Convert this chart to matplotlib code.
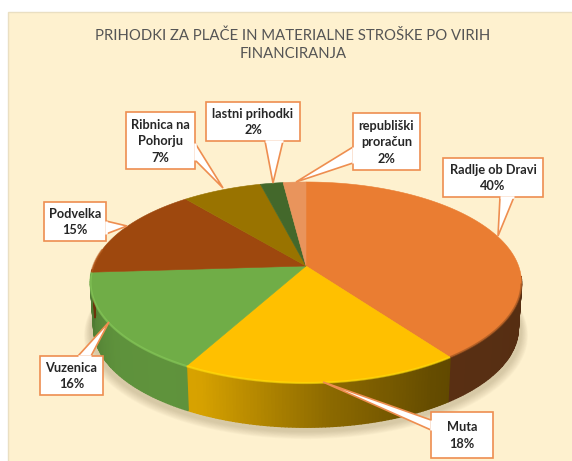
import numpy as np
import matplotlib
matplotlib.use("Agg")
import matplotlib.pyplot as plt
from matplotlib.patches import Polygon, Rectangle
from matplotlib.colors import to_rgb

title = "PRIHODKI ZA PLAČE IN MATERIALNE STROŠKE PO VIRIH\nFINANCIRANJA"
categories = ["Radlje ob Dravi", "Muta", "Vuzenica", "Podvelka",
              "Ribnica na\nPohorju", "lastni prihodki", "republiški\nproračun"]
values = [40, 18, 16, 15, 7, 2, 2]

colors = ["#EA7D32", "#FFC000", "#70AD47", "#9E480E", "#997300", "#43682B", "#E9945C"]

# callout layout: box (x0, y0, x1, y1), pointer base a, pointer base b, tip
callouts = [
    ((443, 158, 543, 197), (500, 197), (514, 197), (498, 236)),
    ((431, 412, 493, 458), (431, 420), (431, 430), (323, 382)),
    ((40, 356, 103, 395), (78, 356), (91, 356), (109, 322)),
    ((44, 202, 106, 241), (106, 221), (106, 234), (127, 226)),
    ((126, 112, 195, 169), (195, 143), (195, 160), (223, 188)),
    ((206, 102, 300, 141), (265, 141), (283, 141), (273, 183)),
    ((353, 113, 420, 170), (353, 147), (353, 163), (296, 182)),
]

CX, CY, R, H, K, DEPTH = 306, 266, 212.6, 97.8, 0.164, 46


def project(theta, drop=0.0, scale=1.0):
    u, v = np.sin(theta), np.cos(theta)
    d = 1 + K * v
    return CX + scale * R * u / d, CY - scale * H * v / d + drop


fig = plt.figure(figsize=(5.72, 4.61), dpi=100, facecolor="white")
ax = fig.add_axes([0, 0, 1, 1])
ax.set_xlim(0, 572)
ax.set_ylim(461, 0)
ax.axis("off")

ax.add_patch(Rectangle((8, 12), 570, 460, fc="#FEF1CF", ec="#EADFC2", lw=1, zorder=0))

# soft shadow
full = np.linspace(0, 2 * np.pi, 240)
for g in np.linspace(9, 0, 10):
    sx, sy = project(full, DEPTH + 3, 1.0 + g / 300)
    ax.fill(sx, sy + g * 0.4, color="#8A7A55", alpha=0.035, lw=0, zorder=1)

ang = np.cumsum([0] + values) / np.sum(values) * 2 * np.pi
deg_knots = [90, 144, 150, 175, 205, 215, 235, 265, 275]
bright_knots = [0.36, 0.38, 0.40, 0.55, 0.84, 0.85, 0.84, 0.70, 0.66]
lo_side, hi_side = np.radians(96), np.radians(268)

# side wall
for a0, a1, col in zip(ang[:-1], ang[1:], colors):
    lo, hi = max(a0, lo_side), min(a1, hi_side)
    if hi <= lo:
        continue
    col = np.array(to_rgb(col))
    th = np.linspace(lo, hi, max(int((hi - lo) * 70), 3))
    for t0, t1 in zip(th[:-1], th[1:]):
        x0, y0 = project(t0)
        x1, y1 = project(t1)
        x2, y2 = project(t1, DEPTH, 0.985)
        x3, y3 = project(t0, DEPTH, 0.985)
        b = np.interp(np.degrees((t0 + t1) / 2), deg_knots, bright_knots)
        c = tuple(col * b)
        ax.add_patch(Polygon([(x0, y0), (x1, y1), (x2, y2), (x3, y3)],
                             fc=c, ec=c, lw=1.0, zorder=2))

# top face
for a0, a1, col in zip(ang[:-1], ang[1:], colors):
    th = np.linspace(a0, a1, 120)
    x, y = project(th)
    ax.add_patch(Polygon(np.r_[[[CX, CY]], np.c_[x, y]], fc=col, ec=col, lw=0.4, zorder=3))

# bevel along the front rim
for a0, a1, col in zip(ang[:-1], ang[1:], colors):
    lo, hi = max(a0, np.radians(100)), min(a1, np.radians(280))
    if hi <= lo:
        continue
    th = np.linspace(lo, hi, 100)
    x, y = project(th)
    c = np.array(to_rgb(col))
    light = tuple(np.clip(c * 1.1 + 0.06, 0, 1))
    dark = tuple(c * 0.62)
    edge = dark if a0 == 0 else light
    ax.plot(x, y, color=edge, lw=1.6, alpha=0.55, zorder=4, solid_capstyle="butt")

# callouts
for (x0, y0, x1, y1), a, b, tip in callouts:
    ax.add_patch(Polygon([a, tip, b], fc="white", ec="#EE8E50", lw=1.2, zorder=5, joinstyle="miter"))
    ax.add_patch(Rectangle((x0, y0), x1 - x0, y1 - y0, fc="white", ec="#EE8E50", lw=1.2, zorder=5))
    ax.plot([a[0], b[0]], [a[1], b[1]], color="white", lw=1.8, zorder=6, solid_capstyle="butt")

total = np.sum(values)
for (box, _, _, _), name, val in zip(callouts, categories, values):
    ax.text((box[0] + box[2]) / 2, (box[1] + box[3]) / 2 + 0.5,
            f"{name}\n{round(val / total * 100)}%",
            ha="center", va="center", family="Lato", weight="bold", fontsize=9.2,
            color="#262626", linespacing=1.45, zorder=7)

ax.text(293, 45, title, ha="center", va="center", family="Lato", fontsize=10.7,
        color="#555555", linespacing=1.4, zorder=7)

fig.savefig("out.png", dpi=100)
